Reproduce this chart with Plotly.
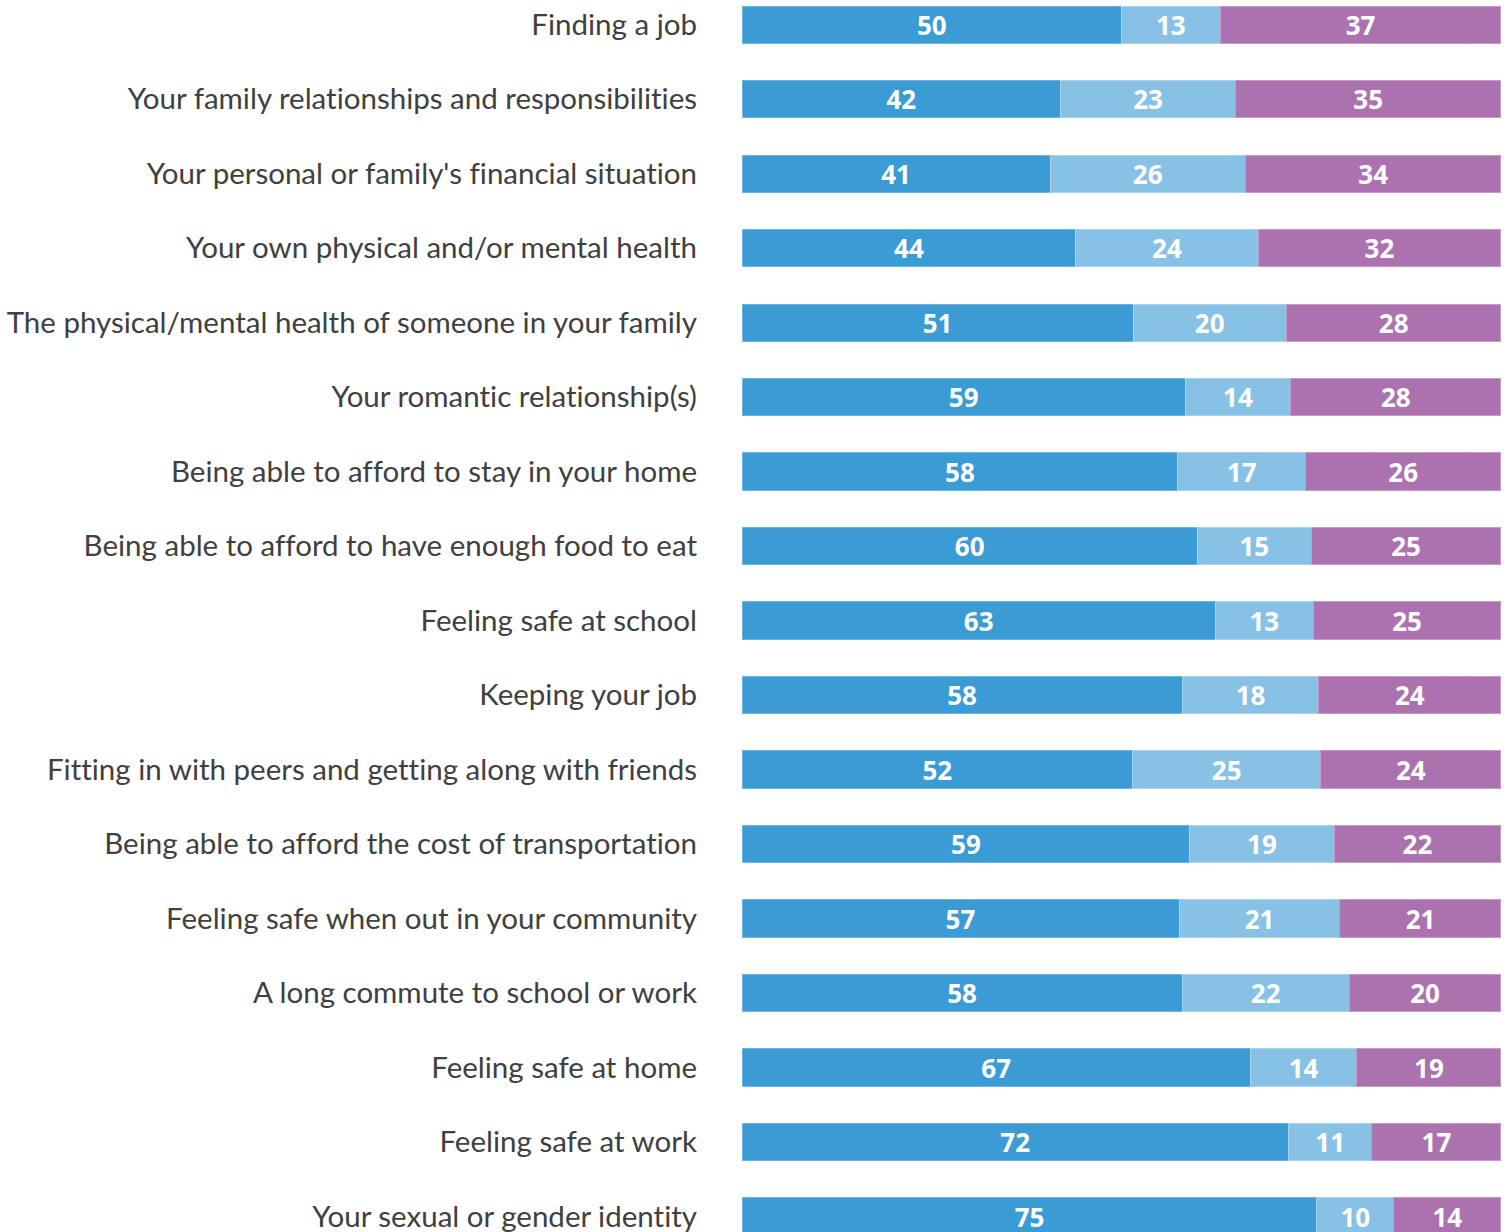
import plotly.graph_objects as go

categories = [
    "Finding a job",
    "Your family relationships and responsibilities",
    "Your personal or family's financial situation",
    "Your own physical and/or mental health",
    "The physical/mental health of someone in your family",
    "Your romantic relationship(s)",
    "Being able to afford to stay in your home",
    "Being able to afford to have enough food to eat",
    "Feeling safe at school",
    "Keeping your job",
    "Fitting in with peers and getting along with friends",
    "Being able to afford the cost of transportation",
    "Feeling safe when out in your community",
    "A long commute to school or work",
    "Feeling safe at home",
    "Feeling safe at work",
    "Your sexual or gender identity",
]
series1 = [50, 42, 41, 44, 51, 59, 58, 60, 63, 58, 52, 59, 57, 58, 67, 72, 75]
series2 = [13, 23, 26, 24, 20, 14, 17, 15, 13, 18, 25, 19, 21, 22, 14, 11, 10]
series3 = [37, 35, 34, 32, 28, 28, 26, 25, 25, 24, 24, 22, 21, 20, 19, 17, 14]

colors = ["#3A9BD5", "#87C2E6", "#AC72AF"]
borders = ["#6DB5E2", "#A9D4EE", "#C59BC8"]

fig = go.Figure()
for vals, c, b in zip([series1, series2, series3], colors, borders):
    fig.add_trace(go.Bar(
        y=categories, x=vals, orientation="h",
        marker=dict(color=c, line=dict(color=b, width=1)),
        text=[str(v) for v in vals], texttemplate="%{text}",
        textposition="inside", insidetextanchor="middle", textangle=0,
        textfont=dict(family="Open Sans", size=26, color="white", weight="bold"),
        constraintext="none",
        cliponaxis=False,
        hoverinfo="skip",
    ))

fig.update_layout(
    barmode="stack", barnorm="percent", bargap=0.503,
    width=1511, height=1232,
    margin=dict(l=742, r=10, t=0, b=0),
    plot_bgcolor="white", paper_bgcolor="white",
    showlegend=False,
    font=dict(family="Lato", color="#404040"),
    xaxis=dict(visible=False, range=[0, 100.001], fixedrange=True),
    yaxis=dict(
        type="category", categoryorder="array", categoryarray=categories,
        range=[16.208, -0.329],
        showgrid=False, zeroline=False, showline=False, ticks="",
        ticklabelstandoff=44, automargin=False,
        tickfont=dict(family="Lato", size=29.5, color="#404040"),
    ),
)
post = (
    "document.body.style.margin='0';"
    "var s=document.createElement('style');"
    "s.textContent='svg text{font-variant-ligatures:none !important;"
    "font-feature-settings:\"liga\" 0, \"clig\" 0 !important;}';"
    "document.head.appendChild(s);"
)
fig.write_html("out.html", post_script=post, config={"displayModeBar": False})
